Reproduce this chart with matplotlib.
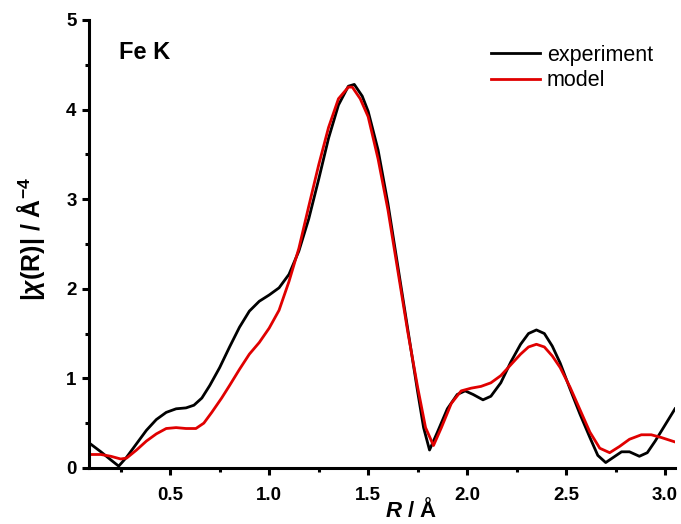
import matplotlib
matplotlib.use("Agg")
from matplotlib import pyplot as plt

# values
r_exp = [0.09, 0.15, 0.20, 0.24, 0.28, 0.33, 0.38, 0.43, 0.48, 0.53, 0.58, 0.62, 0.66, 0.70,
         0.75, 0.80, 0.85, 0.90, 0.95, 1.00, 1.05, 1.10, 1.15, 1.20, 1.25, 1.30, 1.35, 1.40,
         1.43, 1.47, 1.50, 1.55, 1.60, 1.65, 1.70, 1.75, 1.78, 1.81, 1.85, 1.90, 1.95, 1.99,
         2.03, 2.08, 2.12, 2.17, 2.22, 2.27, 2.31, 2.35, 2.39, 2.43, 2.47, 2.52, 2.57, 2.62,
         2.66, 2.70, 2.74, 2.78, 2.82, 2.87, 2.91, 2.95, 3.00, 3.05]
chi_exp = [0.28, 0.18, 0.09, 0.02, 0.12, 0.27, 0.42, 0.54, 0.62, 0.66, 0.67, 0.70, 0.78, 0.92,
           1.12, 1.35, 1.57, 1.75, 1.86, 1.93, 2.01, 2.16, 2.42, 2.78, 3.22, 3.68, 4.05, 4.26,
           4.28, 4.15, 3.98, 3.55, 2.95, 2.25, 1.55, 0.85, 0.45, 0.20, 0.40, 0.66, 0.82, 0.86,
           0.82, 0.76, 0.80, 0.95, 1.18, 1.38, 1.50, 1.54, 1.50, 1.36, 1.17, 0.88, 0.60, 0.34,
           0.14, 0.06, 0.12, 0.18, 0.18, 0.13, 0.17, 0.30, 0.48, 0.66]

r_mod = [0.09, 0.15, 0.20, 0.25, 0.28, 0.33, 0.38, 0.43, 0.48, 0.53, 0.58, 0.63, 0.67, 0.71,
         0.76, 0.80, 0.85, 0.90, 0.95, 1.00, 1.05, 1.10, 1.15, 1.20, 1.25, 1.30, 1.35, 1.40,
         1.42, 1.46, 1.50, 1.55, 1.60, 1.65, 1.70, 1.75, 1.79, 1.83, 1.87, 1.92, 1.97, 2.02,
         2.07, 2.12, 2.17, 2.22, 2.27, 2.31, 2.35, 2.39, 2.43, 2.47, 2.52, 2.57, 2.62, 2.67,
         2.72, 2.77, 2.82, 2.88, 2.93, 2.98, 3.05]
chi_mod = [0.15, 0.15, 0.13, 0.10, 0.11, 0.20, 0.30, 0.38, 0.44, 0.45, 0.44, 0.44, 0.50, 0.62,
           0.78, 0.92, 1.10, 1.27, 1.40, 1.56, 1.76, 2.08, 2.45, 2.92, 3.38, 3.80, 4.12, 4.25,
           4.25, 4.12, 3.92, 3.45, 2.88, 2.20, 1.52, 0.90, 0.45, 0.25, 0.45, 0.72, 0.86, 0.89,
           0.91, 0.95, 1.03, 1.15, 1.27, 1.35, 1.38, 1.35, 1.25, 1.12, 0.90, 0.65, 0.40, 0.22,
           0.17, 0.24, 0.32, 0.37, 0.37, 0.34, 0.29]

x_ticks = [0.5, 1.0, 1.5, 2.0, 2.5, 3.0]
y_ticks = [0, 1, 2, 3, 4, 5]

plt.rcParams['font.family'] = 'Liberation Sans'
plt.rcParams['mathtext.fontset'] = 'custom'
plt.rcParams['mathtext.rm'] = 'Liberation Sans:bold'
plt.rcParams['mathtext.it'] = 'Liberation Sans:italic:bold'
plt.rcParams['mathtext.bf'] = 'Liberation Sans:bold'

fig = plt.figure(figsize=(6.81, 5.24), dpi=100)
ax = fig.add_axes([0.1307, 0.107, 0.8605, 0.855])

ax.plot(r_exp, chi_exp, color='black', lw=2.0, label='experiment', solid_joinstyle='round')
ax.plot(r_mod, chi_mod, color='#e00000', lw=2.0, label='model', solid_joinstyle='round')

ax.set_xlim(0.09, 3.05)
ax.set_ylim(0, 5)
ax.set_xticks(x_ticks)
ax.set_xticklabels(['%.1f' % t for t in x_ticks])
ax.set_yticks(y_ticks)
ax.set_xticks([0.25, 0.75, 1.25, 1.75, 2.25, 2.75], minor=True)
ax.set_yticks([0.5, 1.5, 2.5, 3.5, 4.5], minor=True)

for side in ['top', 'right']:
    ax.spines[side].set_visible(False)
for side in ['left', 'bottom']:
    ax.spines[side].set_linewidth(2.2)
ax.tick_params(which='major', direction='out', length=5, width=2.2, labelsize=13.5, pad=4)
ax.tick_params(axis='x', which='major', pad=9)
ax.tick_params(which='minor', direction='out', length=3, width=2.2)
for lab in ax.get_xticklabels() + ax.get_yticklabels():
    lab.set_fontweight('bold')

ax.set_xlabel(r'$\mathit{R}$ / Å', fontsize=16, fontweight='bold')
ax.xaxis.set_label_coords(0.55, -0.066)
ax.set_ylabel(r'$|\mathit{\chi}(\mathrm{R})|$ / Å$^{-4}$', fontsize=18, fontweight='bold')
ax.yaxis.set_label_coords(-0.072, 0.51)

ax.text(0.24, 4.64, 'Fe K', fontsize=17, fontweight='bold', ha='left', va='center')

ax.legend(loc='upper left', bbox_to_anchor=(0.705, 0.935), bbox_transform=fig.transFigure,
          frameon=False, fontsize=15.5, handlelength=2.3, handletextpad=0.3, labelspacing=0.2,
          borderpad=0)

plt.savefig('out.png', dpi=100)
plt.close()
